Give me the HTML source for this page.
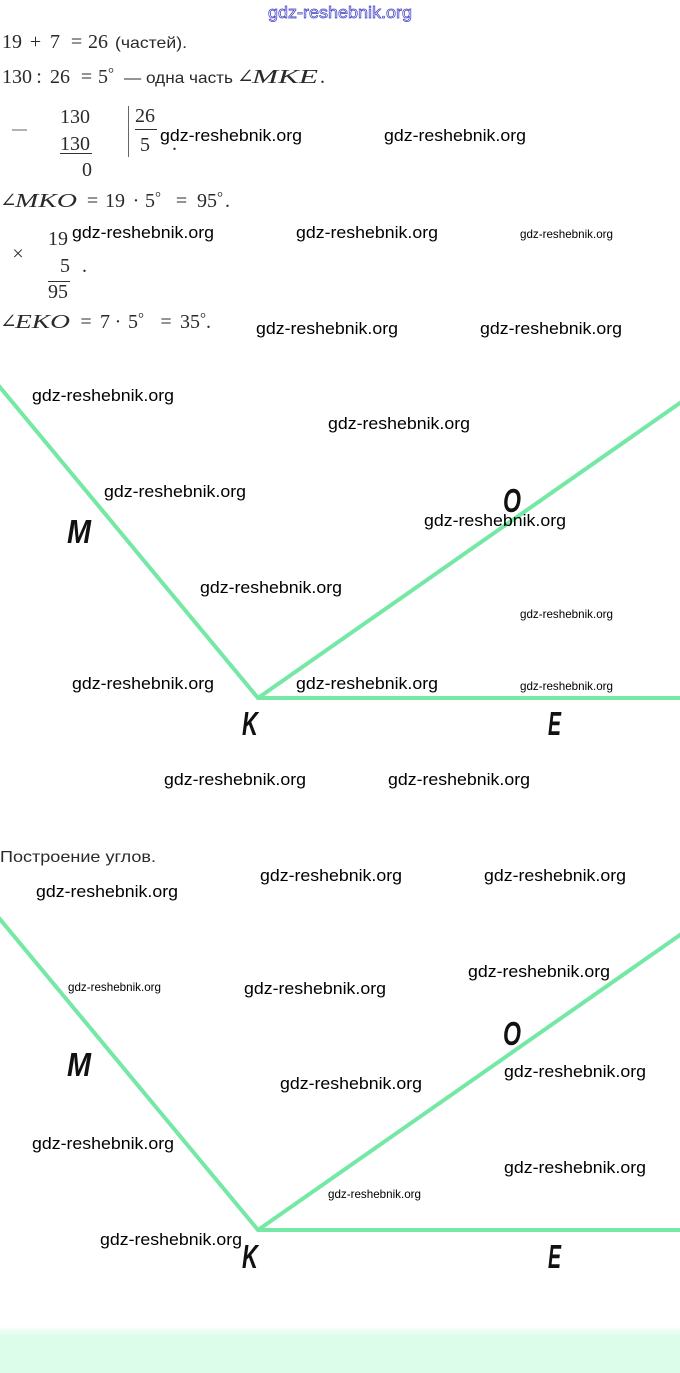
<!DOCTYPE html>
<html>
<head>
<meta charset="utf-8">
<style>
html,body{margin:0;padding:0;background:#fff;}
body{width:680px;height:1373px;overflow:hidden;position:relative;}
svg{position:absolute;left:0;top:0;display:block;}
.m{font-family:"Liberation Serif","DejaVu Serif",serif;font-size:20px;fill:#2a2a2a;}
.mi{font-family:"Liberation Serif","DejaVu Serif",serif;font-size:20px;font-style:italic;fill:#2a2a2a;}
.deg{font-family:"Liberation Serif","DejaVu Serif",serif;font-size:15px;fill:#2a2a2a;}
.s{font-family:"Liberation Sans","DejaVu Sans",sans-serif;font-size:16px;fill:#2a2a2a;}
.w{font-family:"Liberation Sans","DejaVu Sans",sans-serif;font-size:17px;fill:#000;}
.ws{font-family:"Liberation Sans","DejaVu Sans",sans-serif;font-size:12px;fill:#000;}
.L{font-family:"Liberation Sans","DejaVu Sans",sans-serif;font-size:33px;font-weight:bold;font-style:italic;fill:#111;}
</style>
</head>
<body>
<svg width="680" height="1373" viewBox="0 0 680 1373" xmlns="http://www.w3.org/2000/svg">
  <defs>
    <linearGradient id="fade" x1="0" y1="0" x2="0" y2="1">
      <stop offset="0" stop-color="#ffffff"/>
      <stop offset="1" stop-color="#dcfde9"/>
    </linearGradient>
  </defs>
  <!-- top watermark -->
  <text x="268" y="18" font-family="Liberation Sans, sans-serif" font-size="17" fill="#ffffff" stroke="#3b3bc8" stroke-width="0.7" textLength="144" lengthAdjust="spacingAndGlyphs">gdz-reshebnik.org</text>

  <!-- Line 1 -->
  <text class="m" x="2" y="48">19</text>
  <text class="m" x="35.5" y="48" text-anchor="middle" font-size="24">+</text>
  <text class="m" x="50" y="48">7</text>
  <text class="m" x="76.5" y="48" text-anchor="middle" font-size="24">=</text>
  <text class="m" x="88" y="48">26</text>
  <text class="s" x="115" y="48" textLength="72" lengthAdjust="spacingAndGlyphs">(частей).</text>

  <!-- Line 2 -->
  <text class="m" x="2" y="83">130</text>
  <text class="m" x="39" y="83" text-anchor="middle">:</text>
  <text class="m" x="50" y="83">26</text>
  <text class="m" x="86.5" y="83" text-anchor="middle" font-size="24">=</text>
  <text class="m" x="98" y="83">5</text>
  <text class="deg" x="108" y="78">°</text>
  <text class="s" x="124" y="83" textLength="109" lengthAdjust="spacingAndGlyphs">— одна часть</text>
  <text class="m" x="237" y="83" fill="#777">∠</text>
  <text class="mi" x="252" y="83" textLength="66" lengthAdjust="spacingAndGlyphs">MKE</text>
  <text class="m" x="320" y="83">.</text>

  <!-- Division -->
  <line x1="12" y1="130" x2="27" y2="130" stroke="#666" stroke-width="1"/>
  <text class="m" x="60" y="123">130</text>
  <text class="m" x="60" y="150">130</text>
  <line x1="60" y1="153.5" x2="92" y2="153.5" stroke="#333" stroke-width="1"/>
  <text class="m" x="82" y="176">0</text>
  <line x1="128.5" y1="106" x2="128.5" y2="157" stroke="#666" stroke-width="1"/>
  <text class="m" x="135" y="122">26</text>
  <line x1="135" y1="129.5" x2="157" y2="129.5" stroke="#333" stroke-width="1"/>
  <text class="m" x="140" y="151">5</text>
  <text class="m" x="172" y="150">.</text>

  <!-- Angle MKO -->
  <text class="m" x="0" y="207" fill="#777">∠</text>
  <text class="mi" x="15" y="207" textLength="62" lengthAdjust="spacingAndGlyphs">MKO</text>
  <text class="m" x="92.5" y="207" text-anchor="middle" font-size="24">=</text>
  <text class="m" x="105" y="207">19</text>
  <text class="m" x="136" y="207" text-anchor="middle">·</text>
  <text class="m" x="145" y="207">5</text>
  <text class="deg" x="155" y="202">°</text>
  <text class="m" x="181.5" y="207" text-anchor="middle" font-size="24">=</text>
  <text class="m" x="197" y="207">95</text>
  <text class="deg" x="217" y="202">°</text>
  <text class="m" x="225" y="207">.</text>

  <!-- Multiplication -->
  <text class="m" x="18" y="260" text-anchor="middle" font-size="16" fill="#777">×</text>
  <text class="m" x="48" y="245">19</text>
  <text class="m" x="60" y="272">5</text>
  <text class="m" x="82" y="272">.</text>
  <line x1="48" y1="281.5" x2="70" y2="281.5" stroke="#333" stroke-width="1"/>
  <text class="m" x="48" y="298">95</text>

  <!-- Angle EKO -->
  <text class="m" x="0" y="328" fill="#777">∠</text>
  <text class="mi" x="15" y="328" textLength="55" lengthAdjust="spacingAndGlyphs">EKO</text>
  <text class="m" x="86" y="328" text-anchor="middle" font-size="24">=</text>
  <text class="m" x="100" y="328">7</text>
  <text class="m" x="118" y="328" text-anchor="middle">·</text>
  <text class="m" x="128" y="328">5</text>
  <text class="deg" x="138" y="323">°</text>
  <text class="m" x="166" y="328" text-anchor="middle" font-size="24">=</text>
  <text class="m" x="180" y="328">35</text>
  <text class="deg" x="200" y="323">°</text>
  <text class="m" x="206" y="328">.</text>

  <!-- Figure 1 -->
  <g stroke="#74e8a4" stroke-width="4" fill="none" stroke-linejoin="miter">
    <path d="M -6,380 L 258,698 L 690,698"/>
    <path d="M 258,698 L 690,396"/>
  </g>
  <text class="L" x="67" y="543" textLength="24" lengthAdjust="spacingAndGlyphs">M</text>
  <text class="L" x="503" y="512" textLength="18" lengthAdjust="spacingAndGlyphs">O</text>
  <text class="L" x="242" y="735" textLength="16" lengthAdjust="spacingAndGlyphs">K</text>
  <text class="L" x="548" y="735" textLength="13" lengthAdjust="spacingAndGlyphs">E</text>

  <!-- Heading -->
  <text class="s" x="0" y="862" fill="#555" textLength="156" lengthAdjust="spacingAndGlyphs">Построение углов.</text>

  <!-- Figure 2 -->
  <g stroke="#74e8a4" stroke-width="4" fill="none" stroke-linejoin="miter">
    <path d="M -6,912 L 258,1230 L 690,1230"/>
    <path d="M 258,1230 L 690,928"/>
  </g>
  <text class="L" x="67" y="1076" textLength="24" lengthAdjust="spacingAndGlyphs">M</text>
  <text class="L" x="503" y="1045" textLength="18" lengthAdjust="spacingAndGlyphs">O</text>
  <text class="L" x="242" y="1268" textLength="16" lengthAdjust="spacingAndGlyphs">K</text>
  <text class="L" x="548" y="1268" textLength="13" lengthAdjust="spacingAndGlyphs">E</text>

  <!-- Watermarks -->
  <g>
    <text class="w" x="160" y="141" textLength="142" lengthAdjust="spacingAndGlyphs">gdz-reshebnik.org</text>
    <text class="w" x="384" y="141" textLength="142" lengthAdjust="spacingAndGlyphs">gdz-reshebnik.org</text>
    <text class="w" x="72" y="238" textLength="142" lengthAdjust="spacingAndGlyphs">gdz-reshebnik.org</text>
    <text class="w" x="296" y="238" textLength="142" lengthAdjust="spacingAndGlyphs">gdz-reshebnik.org</text>
    <text class="ws" x="520" y="238" textLength="93" lengthAdjust="spacingAndGlyphs">gdz-reshebnik.org</text>
    <text class="w" x="256" y="334" textLength="142" lengthAdjust="spacingAndGlyphs">gdz-reshebnik.org</text>
    <text class="w" x="480" y="334" textLength="142" lengthAdjust="spacingAndGlyphs">gdz-reshebnik.org</text>
    <text class="w" x="32" y="401" textLength="142" lengthAdjust="spacingAndGlyphs">gdz-reshebnik.org</text>
    <text class="w" x="328" y="429" textLength="142" lengthAdjust="spacingAndGlyphs">gdz-reshebnik.org</text>
    <text class="w" x="104" y="497" textLength="142" lengthAdjust="spacingAndGlyphs">gdz-reshebnik.org</text>
    <text class="w" x="424" y="526" textLength="142" lengthAdjust="spacingAndGlyphs">gdz-reshebnik.org</text>
    <text class="w" x="200" y="593" textLength="142" lengthAdjust="spacingAndGlyphs">gdz-reshebnik.org</text>
    <text class="ws" x="520" y="618" textLength="93" lengthAdjust="spacingAndGlyphs">gdz-reshebnik.org</text>
    <text class="w" x="72" y="689" textLength="142" lengthAdjust="spacingAndGlyphs">gdz-reshebnik.org</text>
    <text class="w" x="296" y="689" textLength="142" lengthAdjust="spacingAndGlyphs">gdz-reshebnik.org</text>
    <text class="ws" x="520" y="690" textLength="93" lengthAdjust="spacingAndGlyphs">gdz-reshebnik.org</text>
    <text class="w" x="164" y="785" textLength="142" lengthAdjust="spacingAndGlyphs">gdz-reshebnik.org</text>
    <text class="w" x="388" y="785" textLength="142" lengthAdjust="spacingAndGlyphs">gdz-reshebnik.org</text>
    <text class="w" x="36" y="897" textLength="142" lengthAdjust="spacingAndGlyphs">gdz-reshebnik.org</text>
    <text class="w" x="260" y="881" textLength="142" lengthAdjust="spacingAndGlyphs">gdz-reshebnik.org</text>
    <text class="w" x="484" y="881" textLength="142" lengthAdjust="spacingAndGlyphs">gdz-reshebnik.org</text>
    <text class="ws" x="68" y="991" textLength="93" lengthAdjust="spacingAndGlyphs">gdz-reshebnik.org</text>
    <text class="w" x="244" y="994" textLength="142" lengthAdjust="spacingAndGlyphs">gdz-reshebnik.org</text>
    <text class="w" x="468" y="977" textLength="142" lengthAdjust="spacingAndGlyphs">gdz-reshebnik.org</text>
    <text class="w" x="504" y="1077" textLength="142" lengthAdjust="spacingAndGlyphs">gdz-reshebnik.org</text>
    <text class="w" x="280" y="1089" textLength="142" lengthAdjust="spacingAndGlyphs">gdz-reshebnik.org</text>
    <text class="w" x="32" y="1149" textLength="142" lengthAdjust="spacingAndGlyphs">gdz-reshebnik.org</text>
    <text class="w" x="504" y="1173" textLength="142" lengthAdjust="spacingAndGlyphs">gdz-reshebnik.org</text>
    <text class="ws" x="328" y="1198" textLength="93" lengthAdjust="spacingAndGlyphs">gdz-reshebnik.org</text>
    <text class="w" x="100" y="1245" textLength="142" lengthAdjust="spacingAndGlyphs">gdz-reshebnik.org</text>
  </g>

  <!-- Bottom bar -->
  <rect x="0" y="1326" width="680" height="10" fill="url(#fade)"/>
  <rect x="0" y="1335" width="680" height="38" fill="#dcfde9"/>
</svg>
</body>
</html>
